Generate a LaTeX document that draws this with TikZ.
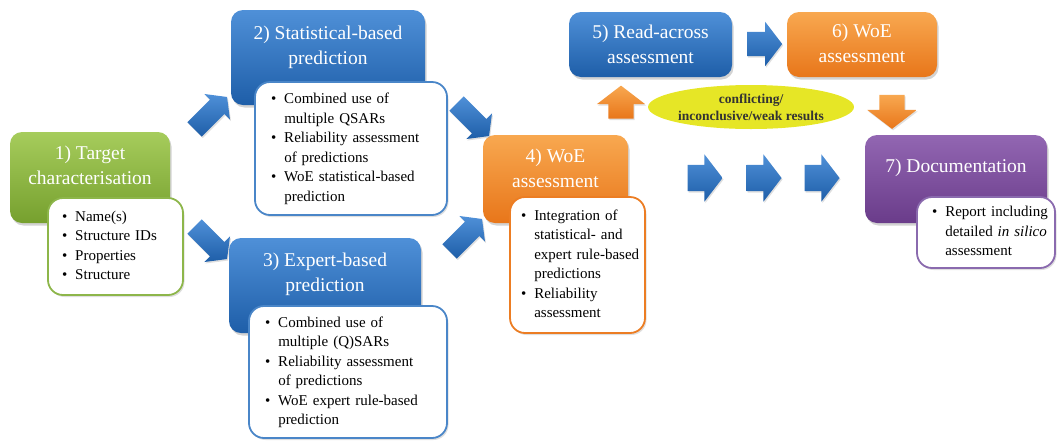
\documentclass[tikz,border=0pt]{standalone}
\usepackage{fontspec}
\setmainfont{Liberation Serif}
\usetikzlibrary{shapes.geometric,shapes.arrows,shadows}

%Colours
\definecolor{grntop}{HTML}{A6CC5C}
\definecolor{grnbot}{HTML}{76A02E}
\definecolor{grnbrd}{HTML}{8DB64A}
\definecolor{blutop}{HTML}{4F90D8}
\definecolor{blubot}{HTML}{1E5EA8}
\definecolor{blubrd}{HTML}{4A86C8}
\definecolor{orgtop}{HTML}{F8A850}
\definecolor{orgbot}{HTML}{E8761A}
\definecolor{orgbrd}{HTML}{EC7D23}
\definecolor{purtop}{HTML}{9266B2}
\definecolor{purbot}{HTML}{6A3C8A}
\definecolor{purbrd}{HTML}{8A6AAE}
\definecolor{ellyel}{HTML}{E6E626}

%Bullet list
\newcommand{\blist}[1]{\begin{tabular}{@{}l@{\hspace{8pt}}l@{}}#1\end{tabular}}

\begin{document}
\begin{tikzpicture}[x=1pt,y=-1pt,
  box/.style={rounded corners=12pt,drop shadow={opacity=0.35,shadow xshift=1.5pt,shadow yshift=-2.5pt}},
  greenbox/.style={box,top color=grntop,bottom color=grnbot},
  bluebox/.style={box,top color=blutop,bottom color=blubot},
  orangebox/.style={box,top color=orgtop,bottom color=orgbot},
  purplebox/.style={box,top color=purtop,bottom color=purbot},
  card/.style={rounded corners=15pt,fill=white,draw=#1,line width=1.8pt,inner ysep=0pt,
    drop shadow={opacity=0.25,shadow xshift=1.5pt,shadow yshift=-2pt},
    font=\fontsize{15}{19.5}\selectfont},
  title/.style={text=white,align=center,font=\fontsize{19.5}{25}\selectfont},
  blockarrow/.style={single arrow,inner xsep=0pt,single arrow tip angle=105,
    drop shadow={opacity=0.25,shadow xshift=1pt,shadow yshift=-1.5pt}},
  bluearrow/.style={blockarrow,top color=blutop,bottom color=blubot},
  orangearrow/.style={blockarrow,top color=orgtop,bottom color=orgbot}
]

\useasboundingbox (0,0) rectangle (1057,440);

%Drawing boxes 1) to 3)
\node[greenbox,minimum width=160pt,minimum height=91pt] (b1) at (90,177.5) {};
\node[title] (t1) at ([yshift=12pt]b1.center) {1) Target\\characterisation};
\node[card=grnbrd,inner xsep=14pt,text width=107pt,minimum height=97pt] (w1) at (115.5,246.5)
  {\blist{\textbullet & Name(s)\\ \textbullet & Structure IDs\\ \textbullet & Properties\\ \textbullet & Structure}};

\node[bluebox,minimum width=194pt,minimum height=95pt] (b2) at (328,57.5) {};
\node[title] (t2) at ([yshift=10pt]b2.center) {2) Statistical-based\\prediction};
\node[card=blubrd,inner xsep=16pt,text width=160pt,minimum height=133pt] (w2) at (351,148.5)
  {\blist{\textbullet & Combined use of\\ & multiple QSARs\\ \textbullet & Reliability assessment\\ & of predictions\\ \textbullet & WoE statistical-based\\ & prediction}};

\node[bluebox,minimum width=192pt,minimum height=95pt] (b3) at (325,285.5) {};
\node[title] (t3) at ([yshift=11pt]b3.center) {3) Expert-based\\prediction};
\node[card=blubrd,inner xsep=16pt,text width=166pt,minimum height=132pt] (w3) at (348,372)
  {\blist{\textbullet & Combined use of\\ & multiple (Q)SARs\\ \textbullet & Reliability assessment\\ & of predictions\\ \textbullet & WoE expert rule-based\\ & prediction}};

%Drawing boxes 4) to 7)
\node[orangebox,minimum width=145pt,minimum height=88pt] (b4) at (555.5,179) {};
\node[title] (t4) at ([yshift=11pt]b4.center) {4) WoE\\assessment};
\node[card=orgbrd,inner xsep=11pt,text width=113pt,minimum height=136pt] (w4) at (577.5,265)
  {\blist{\textbullet & Integration of\\ & statistical- and\\ & expert rule-based\\ & predictions\\ \textbullet & Reliability\\ & assessment}};

\node[bluebox,minimum width=163pt,minimum height=65pt] (b5) at (650.5,44.5) {};
\node[title] (t5) at (b5.center) {5) Read-across\\assessment};

\node[orangebox,minimum width=150pt,minimum height=65pt] (b6) at (862,44.5) {};
\node[title] (t6) at ([yshift=1.5pt]b6.center) {6) WoE\\assessment};

\node[purplebox,minimum width=182pt,minimum height=88pt] (b7) at (956,179) {};
\node[title] (t7) at ([yshift=11pt]b7.center) {7) Documentation};
\node[card=purbrd,inner xsep=15pt,text width=108pt,minimum height=71pt] (w7) at (986,232.5)
  {\blist{\textbullet & Report including\\ & detailed \textit{in silico}\\ & assessment}};

%Conflicting results
\node[ellipse,fill=ellyel,minimum width=202pt,minimum height=44pt,inner sep=0pt,align=center,
  text=black!80,font=\bfseries\fontsize{13.5}{17}\selectfont] (conf) at (751,107)
  {conflicting/\\inconclusive/weak results};

%Drawing block arrows
\node[bluearrow,rotate=45,inner ysep=10pt,single arrow head extend=8pt,minimum height=46pt] (a12) at (208,116) {};
\node[bluearrow,rotate=-45,inner ysep=10pt,single arrow head extend=8pt,minimum height=46pt] (a13) at (208,240) {};
\node[bluearrow,rotate=-45,inner ysep=10pt,single arrow head extend=8pt,minimum height=46pt] (a24) at (470,117) {};
\node[bluearrow,rotate=45,inner ysep=10pt,single arrow head extend=8pt,minimum height=46pt] (a34) at (463,238) {};
\foreach \x [count=\i] in {700,759,817}
  \node[bluearrow,inner ysep=13pt,single arrow head extend=10.5pt,minimum height=35pt] (r\i) at (\x,178) {};
\node[bluearrow,inner ysep=12pt,single arrow head extend=10pt,minimum height=35pt] (a56) at (760,44) {};
\node[orangearrow,rotate=90,inner ysep=12.5pt,single arrow head extend=11.5pt,minimum height=33pt] (a45) at (621,107) {};
\node[orangearrow,rotate=-90,inner ysep=12.5pt,single arrow head extend=12pt,minimum height=34pt] (a67) at (892,107) {};
\end{tikzpicture}
\end{document}
